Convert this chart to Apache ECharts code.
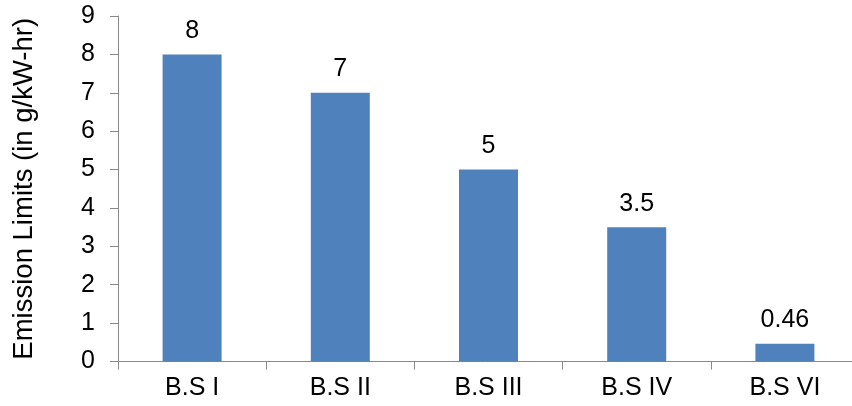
<!DOCTYPE html>
<html>
<head>
<meta charset="utf-8">
<script src="https://cdn.jsdelivr.net/npm/echarts@6/dist/echarts.min.js"></script>
<style>
  html, body { margin: 0; padding: 0; background: #ffffff; }
  #chart { width: 852px; height: 406px; }
</style>
</head>
<body>
<div id="chart"></div>
<script>
// Bharat Stage emission norms
const categories = ['B.S I', 'B.S II', 'B.S III', 'B.S IV', 'B.S VI'];
const limits = [8, 7, 5, 3.5, 0.46];
const yTicks = { min: 0, max: 9, interval: 1 };
const yAxisTitle = 'Emission Limits (in g/kW-hr)';

const font = '"Liberation Sans", Arial, sans-serif';
const axisGray = '#898989';

const chart = echarts.init(document.getElementById('chart'), null, { renderer: 'canvas' });
chart.setOption({
  animation: false,
  backgroundColor: '#ffffff',
  grid: {
    left: 118, top: 16, width: 741, height: 345.5,
    containLabel: false,
    outerBoundsMode: 'none'
  },
  xAxis: {
    type: 'category',
    data: categories,
    boundaryGap: true,
    axisLine: { lineStyle: { color: axisGray, width: 1 } },
    axisTick: { show: true, length: 8, lineStyle: { color: axisGray } },
    axisLabel: { color: '#000', fontFamily: font, fontSize: 25, margin: 14 }
  },
  yAxis: {
    type: 'value',
    min: yTicks.min,
    max: yTicks.max,
    interval: yTicks.interval,
    name: yAxisTitle,
    nameLocation: 'middle',
    nameGap: 80,
    nameTextStyle: { color: '#000', fontFamily: font, fontSize: 27.5 },
    axisLine: { show: true, lineStyle: { color: axisGray, width: 1 } },
    axisTick: { show: true, length: 8, lineStyle: { color: axisGray } },
    splitLine: { show: false },
    axisLabel: { color: '#000', fontFamily: font, fontSize: 25, margin: 23 }
  },
  series: [{
    type: 'bar',
    data: limits,
    barWidth: 59,
    itemStyle: { color: '#4F81BD' },
    label: {
      show: true,
      position: 'top',
      distance: 11,
      color: '#000',
      fontFamily: font,
      fontSize: 25
    }
  }]
});
</script>
</body>
</html>
